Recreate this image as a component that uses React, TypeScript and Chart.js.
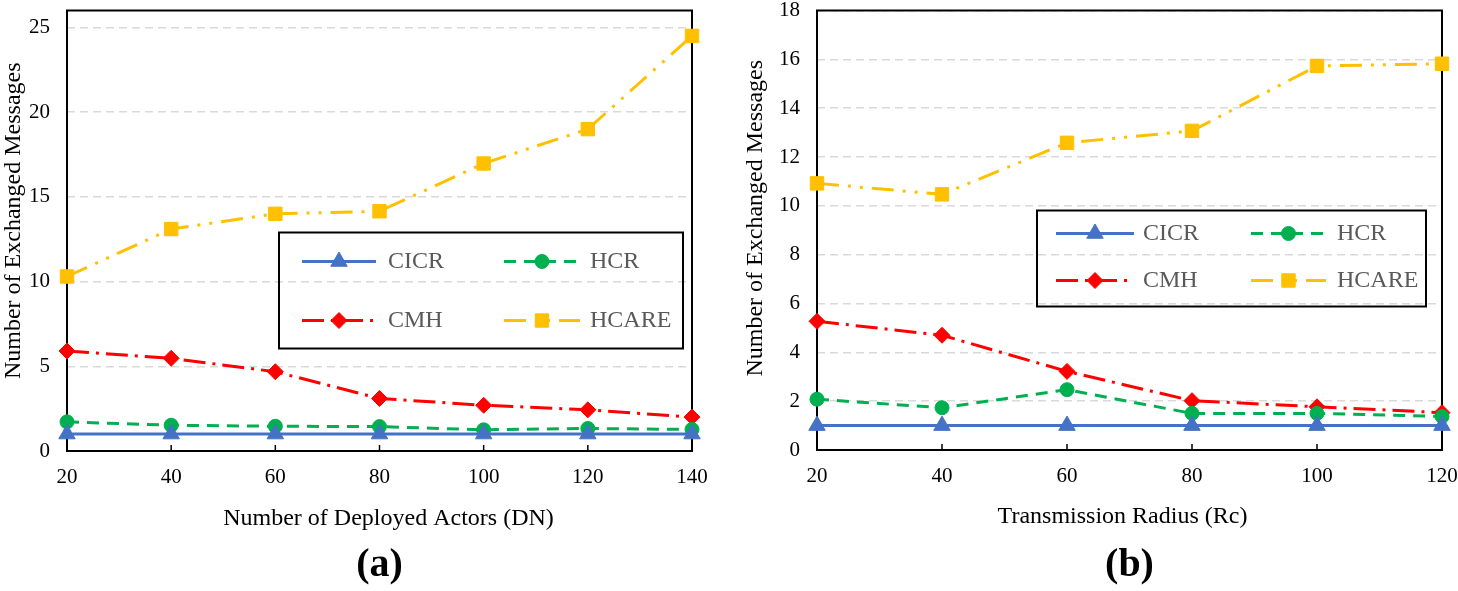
import React, { useEffect, useRef } from "react";
import { Chart, registerables } from "chart.js";
import { drawPoint } from "chart.js/helpers";

Chart.register(...registerables);

// ---------- data ----------
const seriesNames = ["CICR", "HCR", "CMH", "HCARE"];

const actorsX = [20, 40, 60, 80, 100, 120, 140];
const actorsCICR = [1, 1, 1, 1, 1, 1, 1];
const actorsHCR = [1.72, 1.52, 1.46, 1.44, 1.25, 1.33, 1.27];
const actorsCMH = [5.9, 5.47, 4.68, 3.1, 2.7, 2.43, 2.0];
const actorsHCARE = [10.3, 13.1, 14.0, 14.15, 16.97, 19.0, 24.5];
const actorsYTicks = [0, 5, 10, 15, 20, 25];

const radiusX = [20, 40, 60, 80, 100, 120];
const radiusCICR = [1, 1, 1, 1, 1, 1];
const radiusHCR = [2.08, 1.73, 2.47, 1.5, 1.5, 1.37];
const radiusCMH = [5.27, 4.7, 3.22, 2.02, 1.77, 1.53];
const radiusHCARE = [10.92, 10.47, 12.58, 13.07, 15.73, 15.82];
const radiusYTicks = [0, 2, 4, 6, 8, 10, 12, 14, 16, 18];

const yTitle = "Number of Exchanged Messages";
const actorsXTitle = "Number of Deployed Actors (DN)";
const radiusXTitle = "Transmission Radius (Rc)";

// ---------- styles ----------
const FONT = "'Liberation Serif', 'Times New Roman', serif";
const seriesStyles = [
  { color: "#4472C4", dash: [] as number[], point: "triangle", radius: 9.5 },
  { color: "#00B050", dash: [12, 8], point: "circle", radius: 7 },
  { color: "#FF0000", dash: [22, 7, 3, 7], point: "rectRot", radius: 8 },
  { color: "#FFC000", dash: [22, 9, 3, 9, 3, 9], point: "rect", radius: 9.5 },
];

const decorPlugin = {
  id: "decor",
  beforeDatasetsDraw(chart: any) {
    const { ctx, chartArea: a } = chart;
    const xs = chart.scales.x;
    ctx.save();
    ctx.strokeStyle = "#000";
    ctx.lineWidth = 1.5;
    xs.ticks.forEach((_t: any, i: number) => {
      const px = xs.getPixelForTick(i);
      ctx.beginPath();
      ctx.moveTo(px, a.bottom);
      ctx.lineTo(px, a.bottom - 6);
      ctx.stroke();
    });
    ctx.lineWidth = 2;
    ctx.strokeRect(a.left, a.top, a.right - a.left, a.bottom - a.top);
    ctx.restore();
  },
  afterDraw(chart: any, _args: any, opts: any) {
    const { ctx, chartArea: a } = chart;
    const L = opts.legend;
    const bx = a.left + L.left;
    const by = a.top + L.top;
    ctx.save();
    ctx.strokeStyle = "#000";
    ctx.lineWidth = 2;
    ctx.setLineDash([]);
    ctx.strokeRect(bx, by, L.width, L.height);
    chart.data.datasets.forEach((ds: any, i: number) => {
      const col = i % 2;
      const row = Math.floor(i / 2);
      const y = by + L.rows[row];
      const x0 = bx + L.cols[col][0];
      const x1 = bx + L.cols[col][1];
      ctx.setLineDash(ds.borderDash || []);
      ctx.strokeStyle = ds.borderColor;
      ctx.lineWidth = ds.borderWidth;
      ctx.beginPath();
      ctx.moveTo(x0, y);
      ctx.lineTo(x1, y);
      ctx.stroke();
      ctx.setLineDash([]);
      ctx.fillStyle = ds.pointBackgroundColor;
      ctx.strokeStyle = ds.pointBorderColor;
      ctx.lineWidth = 1;
      drawPoint(
        ctx,
        { pointStyle: ds.pointStyle, radius: ds.pointRadius, borderWidth: 1, rotation: 0 } as any,
        (x0 + x1) / 2,
        y
      );
      ctx.fillStyle = "#595959";
      ctx.font = `24px ${FONT}`;
      ctx.textAlign = "left";
      ctx.textBaseline = "middle";
      ctx.fillText(ds.label, bx + L.cols[col][2], y);
    });
    // axis titles
    ctx.fillStyle = "#000";
    ctx.font = `24px ${FONT}`;
    ctx.textAlign = "center";
    ctx.textBaseline = "middle";
    ctx.fillText(opts.xTitle, (a.left + a.right) / 2 + opts.xTitleShift, opts.xTitleY);
    ctx.save();
    ctx.translate(opts.yTitleX, (a.top + a.bottom) / 2 + opts.yTitleShift);
    ctx.rotate(-Math.PI / 2);
    ctx.fillText(opts.yTitle, 0, 0);
    ctx.restore();
    // caption
    ctx.font = `bold 40px ${FONT}`;
    ctx.fillText(opts.caption, (a.left + a.right) / 2, opts.captionY);
    ctx.restore();
  },
};

type PanelProps = {
  xs: number[];
  series: number[][];
  yMax: number;
  yTicks: number[];
  xTitle: string;
  caption: string;
  yWidth: number;
  xHeight: number;
  padRight: number;
  deco: any;
  legend: any;
};

function Panel(p: PanelProps) {
  const ref = useRef<HTMLCanvasElement>(null);
  useEffect(() => {
    if (!ref.current) return;
    const chart = new Chart(ref.current, {
      type: "line",
      data: {
        labels: p.xs.map(String),
        datasets: p.series.map((vals, i) => ({
          label: seriesNames[i],
          data: vals,
          borderColor: seriesStyles[i].color,
          backgroundColor: seriesStyles[i].color,
          borderWidth: 3,
          borderDash: seriesStyles[i].dash,
          pointStyle: seriesStyles[i].point as any,
          pointRadius: seriesStyles[i].radius,
          pointBackgroundColor: seriesStyles[i].color,
          pointBorderColor: seriesStyles[i].color,
          pointBorderWidth: 1,
          tension: 0,
          fill: false,
          clip: false as any,
        })),
      },
      options: {
        responsive: false,
        animation: false,
        events: [],
        layout: { padding: { top: 7, right: p.padRight, left: 0, bottom: 0 } },
        plugins: {
          legend: { display: false },
          tooltip: { enabled: false },
          decor: {
            legend: p.legend,
            caption: p.caption,
            captionY: 566,
            xTitle: p.xTitle,
            yTitle: yTitle,
            ...p.deco,
          },
        } as any,
        scales: {
          x: {
            type: "category",
            offset: false,
            grid: { display: false },
            border: { display: false },
            ticks: {
              color: "#000",
              font: { family: FONT, size: 21 },
              padding: 6,
              maxRotation: 0,
              autoSkip: false,
            },
            afterFit: (s: any) => {
              s.height = p.xHeight;
              s.paddingLeft = 0;
              s.paddingRight = 0;
            },
          },
          y: {
            min: 0,
            max: p.yMax,
            grid: {
              drawTicks: false,
              lineWidth: 1.5,
              color: (c: any) => (c.tick && c.tick.value === 0 ? "rgba(0,0,0,0)" : "#D9D9D9"),
            },
            border: { display: false, dash: [8, 5] },
            ticks: {
              color: "#000",
              font: { family: FONT, size: 21 },
              padding: 17,
            },
            afterBuildTicks: (s: any) => {
              s.ticks = p.yTicks.map((v) => ({ value: v }));
            },
            afterFit: (s: any) => {
              s.width = p.yWidth;
              s.paddingTop = 0;
              s.paddingBottom = 0;
            },
          },
        },
      } as any,
      plugins: [decorPlugin as any],
    });
    return () => chart.destroy();
  }, []);
  return <canvas ref={ref} width={729} height={591} style={{ display: "block" }} />;
}

export default function App() {
  return (
    <div
      style={{
        position: "fixed",
        left: 0,
        top: 0,
        width: 1458,
        height: 591,
        background: "#fff",
        overflow: "hidden",
      }}
    >
      <div style={{ position: "absolute", left: 0, top: 0 }}>
        <Panel
          xs={actorsX}
          series={[actorsCICR, actorsHCR, actorsCMH, actorsHCARE]}
          yMax={26}
          yTicks={actorsYTicks}
          xTitle={actorsXTitle}
          caption="(a)"
          yWidth={67}
          xHeight={140}
          padRight={37}
          deco={{ xTitleShift: 9, xTitleY: 519, yTitleX: 14, yTitleShift: -10 }}
          legend={{ left: 212, top: 222, width: 404, height: 116, rows: [29, 88], cols: [[23, 97, 109], [225, 301, 311]] }}
        />
      </div>
      <div style={{ position: "absolute", left: 729, top: 0 }}>
        <Panel
          xs={radiusX}
          series={[radiusCICR, radiusHCR, radiusCMH, radiusHCARE]}
          yMax={18}
          yTicks={radiusYTicks}
          xTitle={radiusXTitle}
          caption="(b)"
          yWidth={88}
          xHeight={141}
          padRight={16}
          deco={{ xTitleShift: -7, xTitleY: 517, yTitleX: 27, yTitleShift: -12 }}
          legend={{ left: 220, top: 200, width: 389, height: 96, rows: [23, 70], cols: [[19, 97, 106], [214, 289, 300]] }}
        />
      </div>
    </div>
  );
}
